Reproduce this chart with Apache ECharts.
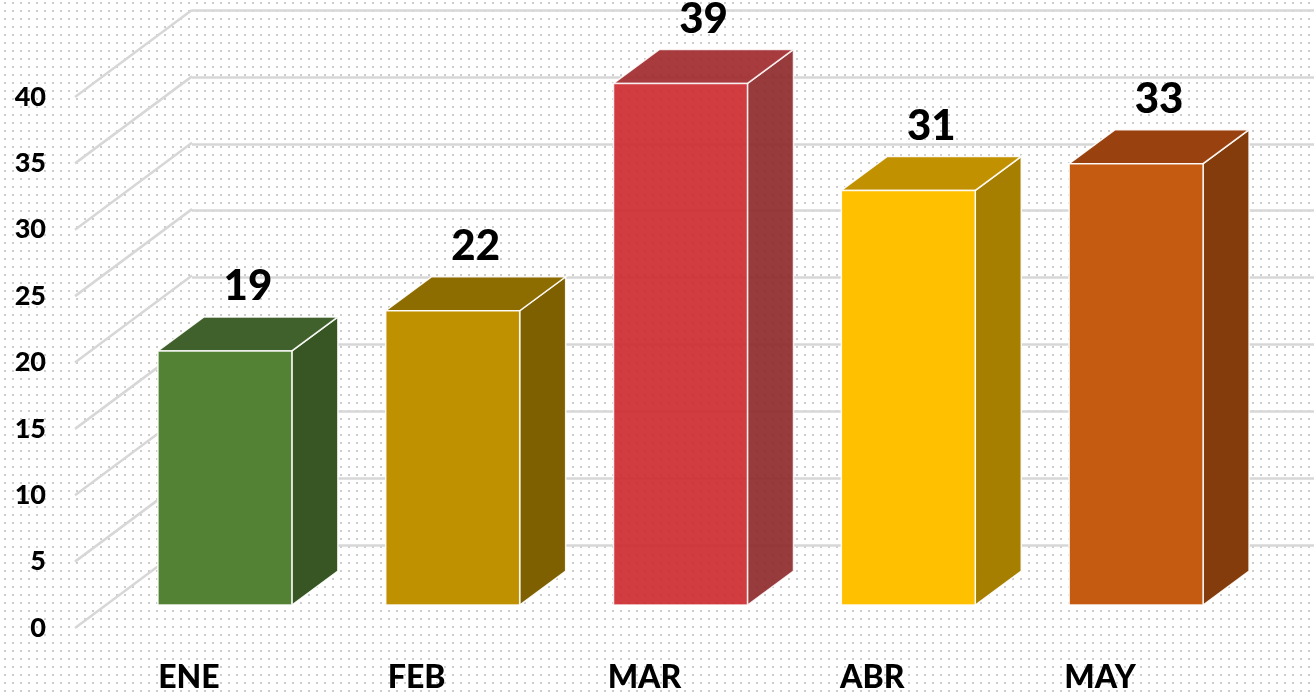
<!DOCTYPE html>
<html>
<head>
<meta charset="utf-8">
<script src="https://cdn.jsdelivr.net/npm/echarts@6/dist/echarts.min.js"></script>
<style>
  html, body { margin: 0; padding: 0; background: #ffffff; }
  #chart {
    width: 1314px; height: 694px;
    background-color: #ffffff;
    background-image: radial-gradient(circle, #cdcdcd 0.8px, transparent 1.1px);
    background-size: 8px 8px;
    background-position: 1px -1px;
  }
</style>
</head>
<body>
<div id="chart"></div>
<script>
// ---- data ----
const categories = ['ENE', 'FEB', 'MAR', 'ABR', 'MAY'];
const values = [19, 22, 39, 31, 33];
const yTicks = [0, 5, 10, 15, 20, 25, 30, 35, 40];

// ---- styles ----
const palette = [
  { front: '#548235', side: '#375623', top: '#40612b', opacity: 1 },
  { front: '#bf9000', side: '#7f6000', top: '#8d6c00', opacity: 1 },
  { front: '#cc2b2f', side: '#8e2a2d', top: '#a02a2e', opacity: 0.92 },
  { front: '#ffc000', side: '#a67e00', top: '#c19100', opacity: 1 },
  { front: '#c55a11', side: '#843c0c', top: '#99420f', opacity: 1 }
];
const DEPTH_X = 46, DEPTH_Y = -34;          // bar depth projection
const WALL_X = 117, WALL_Y = -87;           // axis plane -> back wall
const FONT = 'Lato, "Open Sans", sans-serif';
const GRID_COLOR = '#d7d7d7';

const chart = echarts.init(document.getElementById('chart'), null, { renderer: 'canvas' });

const option = {
  backgroundColor: 'transparent',
  animation: false,
  grid: [
    { left: 111, right: 64, top: 70, bottom: 89 },
    { left: 75, right: 100, top: 97, bottom: 62 },
    { left: 192, right: 0, top: 10, bottom: 149 }
  ],
  xAxis: [
    { type: 'category', gridIndex: 0, data: categories, show: false },
    {
      type: 'category', gridIndex: 1, data: categories,
      axisLine: { show: false }, axisTick: { show: false },
      axisLabel: { show: true, margin: 34, color: '#000', fontFamily: FONT, fontWeight: 900, fontSize: 32 }
    },
    { type: 'category', gridIndex: 2, data: categories, show: false }
  ],
  yAxis: [
    { type: 'value', gridIndex: 0, min: 0, max: 40, interval: 5, show: false },
    {
      type: 'value', gridIndex: 1, min: 0, max: 40, interval: 5,
      axisLine: { show: false }, axisTick: { show: false }, splitLine: { show: false },
      axisLabel: {
        margin: 29, color: '#000', fontFamily: FONT, fontWeight: 900, fontSize: 27,
        customValues: yTicks
      }
    },
    {
      type: 'value', gridIndex: 2, min: 0, max: 40, interval: 5,
      axisLine: { show: false }, axisTick: { show: false }, axisLabel: { show: false },
      splitLine: { show: true, lineStyle: { color: GRID_COLOR, width: 2.5 } }
    }
  ],
  series: [
    {
      type: 'custom',
      xAxisIndex: 1, yAxisIndex: 1,
      z: 1,
      silent: true,
      data: yTicks.map(v => [0, v]),
      renderItem: function (params, api) {
        const y = api.coord([0, api.value(1)])[1];
        const x = params.coordSys.x;
        return {
          type: 'line',
          shape: { x1: x, y1: y, x2: x + WALL_X, y2: y + WALL_Y },
          style: { stroke: GRID_COLOR, lineWidth: 2.5 }
        };
      }
    },
    {
      type: 'custom',
      xAxisIndex: 0, yAxisIndex: 0,
      z: 5,
      data: values.map((v, i) => [i, v]),
      renderItem: function (params, api) {
        const i = api.value(0), v = api.value(1);
        const base = api.coord([i, 0]);
        const top = api.coord([i, v]);
        const bw = api.size([1, 0])[0] * 0.588;
        const x0 = base[0] - bw / 2, x1 = base[0] + bw / 2;
        const yb = base[1], yt = top[1];
        const c = palette[i];
        const stroke = { stroke: 'rgba(255,255,255,0.9)', lineWidth: 1.5 };
        return {
          type: 'group',
          children: [
            {
              type: 'polygon',
              shape: { points: [[x1, yt], [x1 + DEPTH_X, yt + DEPTH_Y], [x1 + DEPTH_X, yb + DEPTH_Y], [x1, yb]] },
              style: Object.assign({ fill: c.side, opacity: c.opacity }, stroke)
            },
            {
              type: 'polygon',
              shape: { points: [[x0, yt], [x0 + DEPTH_X, yt + DEPTH_Y], [x1 + DEPTH_X, yt + DEPTH_Y], [x1, yt]] },
              style: Object.assign({ fill: c.top, opacity: c.opacity }, stroke)
            },
            {
              type: 'rect',
              shape: { x: x0, y: yt, width: bw, height: yb - yt },
              style: Object.assign({ fill: c.front, opacity: c.opacity }, stroke)
            },
            {
              type: 'text',
              x: (x0 + x1) / 2 + DEPTH_X / 2,
              y: yt + DEPTH_Y - 30,
              style: {
                text: String(v),
                fill: '#000',
                font: '900 42px ' + FONT,
                align: 'center',
                verticalAlign: 'middle'
              }
            }
          ]
        };
      }
    }
  ]
};

chart.setOption(option);
</script>
</body>
</html>
